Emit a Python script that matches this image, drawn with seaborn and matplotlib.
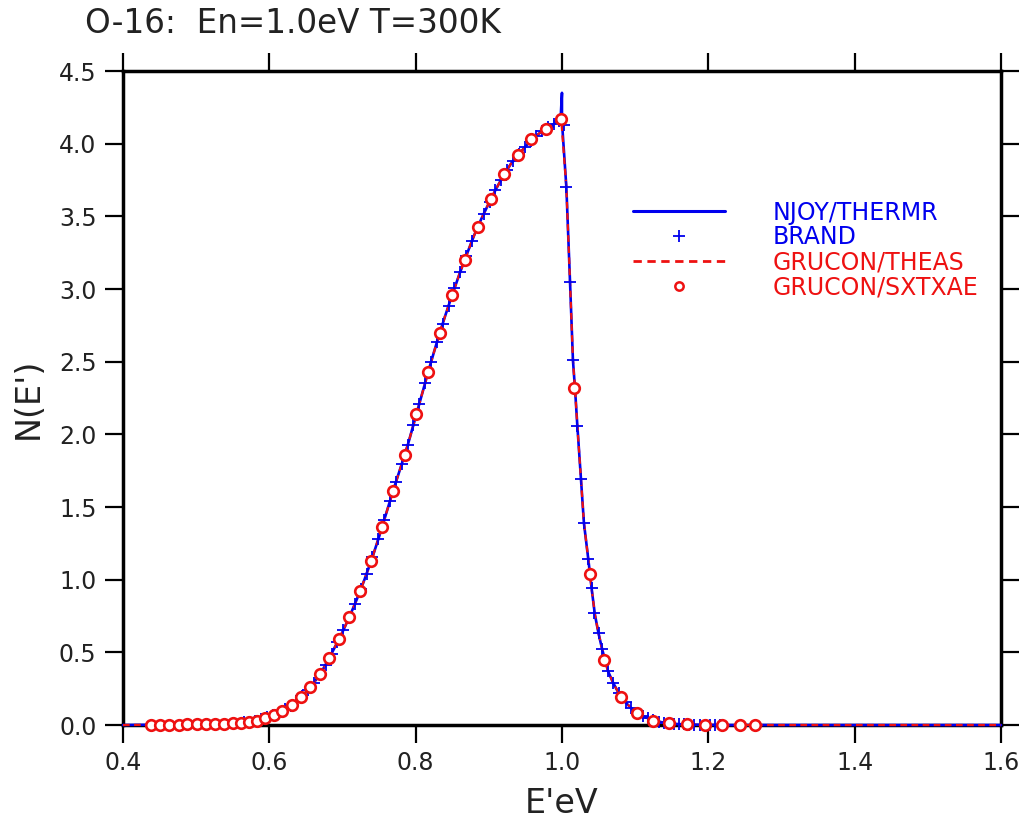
"""
O-16 scattering kernel N(E') at En=1.0 eV, T=300 K
Comparison of NJOY/THERMR, BRAND, GRUCON/THEAS and GRUCON/SXTXAE.
"""

import matplotlib
matplotlib.use("Agg")
import matplotlib.pyplot as plt
from matplotlib.lines import Line2D
import seaborn as sns

# ── Data ───────────────────────────────────────────────────────────────────────
# NJOY/THERMR continuous curve (includes the small spike at E'=En)
njoy_e = [0.400, 0.440, 0.480, 0.520, 0.550, 0.570, 0.580, 0.590, 0.600, 0.610,
          0.620, 0.630, 0.640, 0.650, 0.660, 0.670, 0.680, 0.690, 0.700, 0.710,
          0.720, 0.730, 0.740, 0.750, 0.760, 0.770, 0.780, 0.790, 0.800, 0.810,
          0.820, 0.830, 0.840, 0.850, 0.860, 0.870, 0.880, 0.890, 0.900, 0.910,
          0.920, 0.930, 0.940, 0.950, 0.960, 0.970, 0.980, 0.990, 0.998, 1.000,
          1.000, 1.006, 1.011, 1.015, 1.018, 1.021, 1.026, 1.030, 1.036, 1.041,
          1.045, 1.050, 1.055, 1.063, 1.070, 1.078, 1.087, 1.095, 1.103, 1.111,
          1.125, 1.140, 1.160, 1.190, 1.220, 1.600]
njoy_n = [0.000, 0.002, 0.004, 0.007, 0.013, 0.021, 0.027, 0.040, 0.057, 0.078,
          0.104, 0.136, 0.178, 0.226, 0.285, 0.355, 0.442, 0.540, 0.640, 0.750,
          0.870, 1.000, 1.140, 1.295, 1.460, 1.625, 1.780, 1.940, 2.120, 2.300,
          2.480, 2.650, 2.810, 2.960, 3.105, 3.240, 3.370, 3.485, 3.590, 3.690,
          3.780, 3.860, 3.920, 3.980, 4.035, 4.075, 4.110, 4.140, 4.160, 4.350,
          4.150, 3.700, 3.050, 2.510, 2.300, 2.060, 1.690, 1.390, 1.140, 0.920,
          0.760, 0.630, 0.520, 0.370, 0.290, 0.215, 0.155, 0.115, 0.082, 0.060,
          0.032, 0.015, 0.006, 0.002, 0.000, 0.000]

# GRUCON/THEAS continuous curve (no spike)
theas_e = [0.400, 0.440, 0.480, 0.520, 0.550, 0.570, 0.580, 0.590, 0.600, 0.610,
           0.620, 0.630, 0.640, 0.650, 0.660, 0.670, 0.680, 0.690, 0.700, 0.710,
           0.720, 0.730, 0.740, 0.750, 0.760, 0.770, 0.780, 0.790, 0.800, 0.810,
           0.820, 0.830, 0.840, 0.850, 0.860, 0.870, 0.880, 0.890, 0.900, 0.910,
           0.920, 0.930, 0.940, 0.950, 0.960, 0.970, 0.980, 0.990, 0.999, 1.006,
           1.011, 1.015, 1.018, 1.021, 1.026, 1.030, 1.036, 1.041, 1.045, 1.050,
           1.055, 1.063, 1.070, 1.078, 1.087, 1.095, 1.103, 1.111, 1.125, 1.140,
           1.160, 1.190, 1.220, 1.600]
theas_n = [0.000, 0.002, 0.004, 0.007, 0.013, 0.021, 0.027, 0.040, 0.057, 0.078,
           0.104, 0.136, 0.178, 0.226, 0.285, 0.355, 0.442, 0.540, 0.640, 0.750,
           0.870, 1.000, 1.140, 1.295, 1.460, 1.625, 1.780, 1.940, 2.120, 2.300,
           2.480, 2.650, 2.810, 2.960, 3.105, 3.240, 3.370, 3.485, 3.590, 3.690,
           3.780, 3.860, 3.920, 3.980, 4.035, 4.075, 4.110, 4.140, 4.165, 3.700,
           3.050, 2.510, 2.300, 2.060, 1.690, 1.390, 1.140, 0.920, 0.760, 0.630,
           0.520, 0.370, 0.290, 0.215, 0.155, 0.115, 0.082, 0.060, 0.032, 0.015,
           0.006, 0.002, 0.000, 0.000]

# BRAND points (+)
brand_e = [0.565, 0.573, 0.581, 0.589, 0.597, 0.605, 0.613, 0.621, 0.629, 0.637,
           0.645, 0.653, 0.661, 0.669, 0.677, 0.685, 0.693, 0.701, 0.709, 0.717,
           0.725, 0.733, 0.741, 0.749, 0.757, 0.765, 0.773, 0.781, 0.789, 0.797,
           0.805, 0.813, 0.821, 0.829, 0.837, 0.845, 0.853, 0.861, 0.869, 0.877,
           0.885, 0.893, 0.901, 0.909, 0.917, 0.925, 0.933, 0.941, 0.949, 0.957,
           0.965, 0.973, 0.981, 0.989, 0.996, 1.0025, 1.006, 1.011, 1.015, 1.021,
           1.026, 1.030, 1.036, 1.041, 1.044, 1.050, 1.055, 1.063, 1.070, 1.078,
           1.087, 1.095, 1.103, 1.111, 1.118, 1.125, 1.132, 1.139, 1.146, 1.153,
           1.160, 1.167, 1.174, 1.181, 1.188, 1.195, 1.202, 1.209, 1.216]
brand_n = [0.019, 0.023, 0.028, 0.039, 0.052, 0.067, 0.085, 0.107, 0.133, 0.165,
           0.202, 0.244, 0.292, 0.348, 0.415, 0.490, 0.570, 0.651, 0.739, 0.834,
           0.935, 1.042, 1.155, 1.280, 1.410, 1.543, 1.672, 1.796, 1.924, 2.066,
           2.210, 2.354, 2.497, 2.633, 2.762, 2.885, 3.004, 3.119, 3.227, 3.331,
           3.428, 3.517, 3.600, 3.680, 3.753, 3.820, 3.878, 3.926, 3.974, 4.019,
           4.055, 4.086, 4.113, 4.137, 4.155, 4.130, 3.700, 3.050, 2.510, 2.060,
           1.690, 1.390, 1.140, 0.940, 0.770, 0.630, 0.520, 0.370, 0.290, 0.220,
           0.160, 0.120, 0.085, 0.062, 0.045, 0.032, 0.022, 0.016, 0.011, 0.008,
           0.006, 0.004, 0.003, 0.002, 0.002, 0.001, 0.001, 0.001, 0.000]

# GRUCON/SXTXAE points (o)
sxtxae_e = [0.438, 0.451, 0.463, 0.476, 0.488, 0.501, 0.513, 0.526, 0.538, 0.550,
            0.561, 0.572, 0.583, 0.594, 0.606, 0.618, 0.631, 0.643, 0.656, 0.669,
            0.682, 0.695, 0.709, 0.724, 0.739, 0.754, 0.769, 0.785, 0.801, 0.817,
            0.833, 0.850, 0.867, 0.885, 0.903, 0.921, 0.940, 0.958, 0.978, 0.998,
            1.017, 1.038, 1.058, 1.081, 1.102, 1.124, 1.146, 1.171, 1.195, 1.219,
            1.243, 1.264]
sxtxae_n = [0.002, 0.002, 0.003, 0.003, 0.004, 0.005, 0.006, 0.008, 0.010, 0.013,
            0.017, 0.022, 0.030, 0.046, 0.069, 0.098, 0.140, 0.190, 0.260, 0.350,
            0.460, 0.590, 0.740, 0.920, 1.130, 1.360, 1.610, 1.860, 2.140, 2.430,
            2.700, 2.960, 3.200, 3.430, 3.620, 3.790, 3.920, 4.030, 4.100, 4.170,
            2.320, 1.040, 0.447, 0.190, 0.080, 0.030, 0.012, 0.005, 0.003, 0.002,
            0.001, 0.001]

x_ticks = [0.4, 0.6, 0.8, 1.0, 1.2, 1.4, 1.6]
y_ticks = [0.0, 0.5, 1.0, 1.5, 2.0, 2.5, 3.0, 3.5, 4.0, 4.5]

BLUE = "#0000ee"
RED = "#ee1111"

# ── Style ──────────────────────────────────────────────────────────────────────
sns.set_theme(style="ticks")
plt.rcParams["font.family"] = ["DejaVu Sans"]

fig = plt.figure(figsize=(10.24, 8.24), dpi=100)
ax = fig.add_axes([0.1201, 0.1201, 0.8574, 0.7937])

# ── Curves and markers ─────────────────────────────────────────────────────────
sns.lineplot(x=njoy_e, y=njoy_n, sort=False, estimator=None, color=BLUE,
             linewidth=1.9, ax=ax, zorder=3, clip_on=False)
sns.lineplot(x=theas_e, y=theas_n, sort=False, estimator=None, color=RED,
             linewidth=1.6, linestyle=(0, (3, 2)), ax=ax, zorder=4, clip_on=False)
sns.scatterplot(x=brand_e, y=brand_n, marker="+", color=BLUE, s=70,
                linewidth=1.3, ax=ax, zorder=5, clip_on=False)
sns.scatterplot(x=sxtxae_e, y=sxtxae_n, marker="o", facecolor="white",
                edgecolor=RED, s=58, linewidth=1.9, ax=ax, zorder=6, clip_on=False)

# ── Axes ───────────────────────────────────────────────────────────────────────
ax.set_xlim(0.4, 1.6)
ax.set_ylim(0.0, 4.5)
ax.set_xticks(x_ticks)
ax.set_yticks(y_ticks)
ax.set_xticklabels([f"{v:.1f}" for v in x_ticks])
ax.set_yticklabels([f"{v:.1f}" for v in y_ticks])
ax.tick_params(direction="out", length=13, width=1.6, labelsize=17,
               top=True, right=True, color="black", labelcolor="#222222", pad=6)
for sp in ax.spines.values():
    sp.set_linewidth(2.5)
    sp.set_color("black")
ax.grid(False)

ax.set_xlabel("E'eV", fontsize=24, color="#222222", labelpad=8)
ax.set_ylabel("N(E')", fontsize=24, color="#222222", labelpad=10)
fig.text(0.083, 0.96, "O-16:  En=1.0eV T=300K", fontsize=23.5,
         color="#222222", ha="left", va="baseline")

# ── Legend ─────────────────────────────────────────────────────────────────────
handles = [
    Line2D([], [], color=BLUE, linewidth=2.2),
    Line2D([], [], color=BLUE, linestyle="none", marker="+", markersize=8,
           markeredgewidth=1.3),
    Line2D([], [], color=RED, linewidth=2.0, linestyle=(0, (3, 2))),
    Line2D([], [], color=RED, linestyle="none", marker="o", markersize=6,
           markerfacecolor="white", markeredgewidth=1.8),
]
labels = ["NJOY/THERMR", "BRAND", "GRUCON/THEAS", "GRUCON/SXTXAE"]
ax.legend(handles, labels, loc="upper left", bbox_to_anchor=(0.581, 0.802),
          frameon=False, fontsize=17, handlelength=3.9, handletextpad=2.0,
          labelspacing=0.04, borderpad=0, borderaxespad=0,
          labelcolor=[BLUE, BLUE, RED, RED])

fig.savefig("out.png", dpi=100)
